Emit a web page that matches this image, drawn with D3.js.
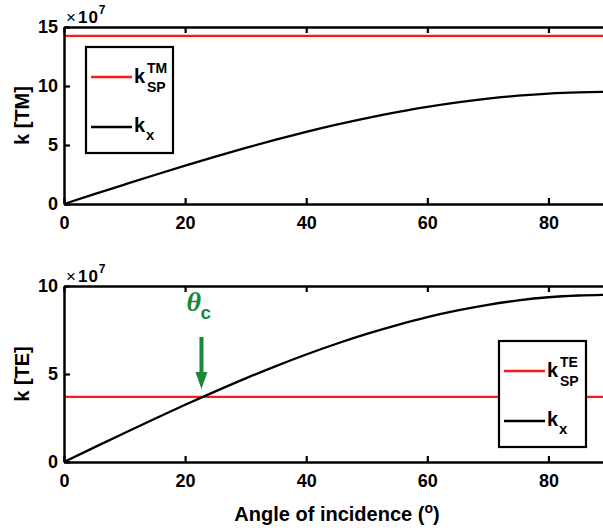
<!doctype html>
<html lang="en">
<head>
<meta charset="utf-8">
<title>k vs angle of incidence</title>
<script src="https://d3js.org/d3.v7.min.js"></script>
<style>
  body { margin: 0; background: #fff; }
  svg text { font-family: "Liberation Sans", Arial, Helvetica, sans-serif; font-weight: bold; fill: #000; }
</style>
</head>
<body>
<svg width="603" height="531"></svg>
<script>
// angle of incidence (degrees) and k_x (units of 1e7)
var angles = [0, 5, 10, 15, 20, 25, 30, 35, 40, 45, 50, 55, 60, 65, 70, 75, 80, 85, 90];
var kxValues = [0, 0.83, 1.65, 2.46, 3.25, 4.01, 4.75, 5.45, 6.11, 6.72, 7.28, 7.78, 8.23, 8.61, 8.93, 9.18, 9.36, 9.46, 9.5];
var kspTM = 14.25;
var kspTE = 3.7;
var thetaC = 22.7;

var xTicks = [0, 20, 40, 60, 80];
var yTicksTM = [0, 5, 10, 15];
var yTicksTE = [0, 5, 10];

var red = "#ff1a1a", green = "#178a3a";
var svg = d3.select("svg");
var data = angles.map(function(a, i) { return {a: a, k: kxValues[i]}; });

var x = d3.scaleLinear().domain([0, 90]).range([64, 609]);

function panel(top, bottom, yMax, yTicks, ksp, label) {
  var y = d3.scaleLinear().domain([0, yMax]).range([bottom, top]);
  var g = svg.append("g");

  g.append("line").attr("x1", x(0)).attr("x2", x(90)).attr("y1", y(ksp)).attr("y2", y(ksp))
    .attr("stroke", red).attr("stroke-width", 2.3);

  var line = d3.line().x(function(d) { return x(d.a); }).y(function(d) { return y(d.k); })
    .curve(d3.curveMonotoneX);
  g.append("path").datum(data).attr("fill", "none").attr("stroke", "#000")
    .attr("stroke-width", 2.3).attr("d", line);

  // box with inward ticks on all sides
  var fmt = function() { return ""; };
  g.append("g").attr("transform", "translate(0," + bottom + ")")
    .call(d3.axisBottom(x).tickValues(xTicks).tickSizeInner(-6).tickSizeOuter(0).tickPadding(12));
  g.append("g").attr("transform", "translate(0," + top + ")")
    .call(d3.axisTop(x).tickValues(xTicks).tickSizeInner(-6).tickSizeOuter(0).tickFormat(fmt));
  g.append("g").attr("transform", "translate(" + x(0) + ",0)")
    .call(d3.axisLeft(y).tickValues(yTicks).tickSizeInner(-6).tickSizeOuter(0).tickPadding(6));
  g.append("g").attr("transform", "translate(" + x(90) + ",0)")
    .call(d3.axisRight(y).tickValues(yTicks).tickSizeInner(-6).tickSizeOuter(0).tickFormat(fmt));
  g.selectAll(".domain").attr("stroke", "#000").attr("stroke-width", 2.5);
  g.selectAll(".tick line").attr("stroke", "#000").attr("stroke-width", 2.2);
  g.selectAll(".tick text").style("font-size", "18px").style("font-weight", "bold")
    .style("font-family", "'Liberation Sans', Arial, sans-serif");

  // exponent
  var ex = g.append("text").attr("x", 66).attr("y", top - 4).style("font-size", "17px");
  ex.append("tspan").style("font-weight", "normal").text("\u00d7");
  ex.append("tspan").attr("dx", 2).style("letter-spacing", "1px").text("10");
  ex.append("tspan").attr("dy", -9).attr("dx", 0).style("font-size", "12px").text("7");

  g.append("text").attr("transform", "translate(29," + ((top + bottom) / 2) + ") rotate(-90)")
    .attr("text-anchor", "middle").style("font-size", "20px").text(label);
  return y;
}

var yTM = panel(27, 204, 15, yTicksTM, kspTM, "k [TM]");
var yTE = panel(286, 462, 10, yTicksTE, kspTE, "k [TE]");

function legend(bx, by, mode) {
  var g = svg.append("g");
  g.append("rect").attr("x", bx).attr("y", by).attr("width", 87).attr("height", 106)
    .attr("fill", "#fff").attr("stroke", "#000").attr("stroke-width", 2.2);
  g.append("line").attr("x1", bx + 5).attr("x2", bx + 46).attr("y1", by + 30).attr("y2", by + 30)
    .attr("stroke", red).attr("stroke-width", 2.3);
  g.append("line").attr("x1", bx + 5).attr("x2", bx + 46).attr("y1", by + 80).attr("y2", by + 80)
    .attr("stroke", "#000").attr("stroke-width", 2.3);
  g.append("text").attr("x", bx + 48).attr("y", by + 36).style("font-size", "20px").text("k");
  g.append("text").attr("x", bx + 61).attr("y", by + 26).style("font-size", "14px").text(mode);
  g.append("text").attr("x", bx + 61).attr("y", by + 45).style("font-size", "14px").text("SP");
  g.append("text").attr("x", bx + 48).attr("y", by + 85).style("font-size", "20px").text("k");
  g.append("text").attr("x", bx + 60).attr("y", by + 93).style("font-size", "15px").text("x");
}
legend(86, 47, "TM");
legend(499, 341, "TE");

// critical angle marker
var ax = x(thetaC);
svg.append("line").attr("x1", ax).attr("x2", ax).attr("y1", 337).attr("y2", 374)
  .attr("stroke", green).attr("stroke-width", 4);
svg.append("path").attr("d", "M" + (ax - 6) + ",372 L" + (ax + 6) + ",372 L" + ax + ",389 Z").attr("fill", green);
svg.append("text").attr("x", ax - 15).attr("y", 311).style("font-family", "'Liberation Serif', 'DejaVu Serif', serif")
  .style("font-style", "italic").style("font-size", "28px").style("fill", green).text("\u03b8");
svg.append("text").attr("x", ax - 1).attr("y", 319).style("font-size", "19px").style("fill", green).text("c");

// x axis title
var xt = svg.append("text").attr("x", 337).attr("y", 521).attr("text-anchor", "middle").style("font-size", "20px");
xt.append("tspan").text("Angle of incidence (");
xt.append("tspan").attr("dy", -8).style("font-size", "14px").text("o");
xt.append("tspan").attr("dy", 8).text(")");
</script>
</body>
</html>
